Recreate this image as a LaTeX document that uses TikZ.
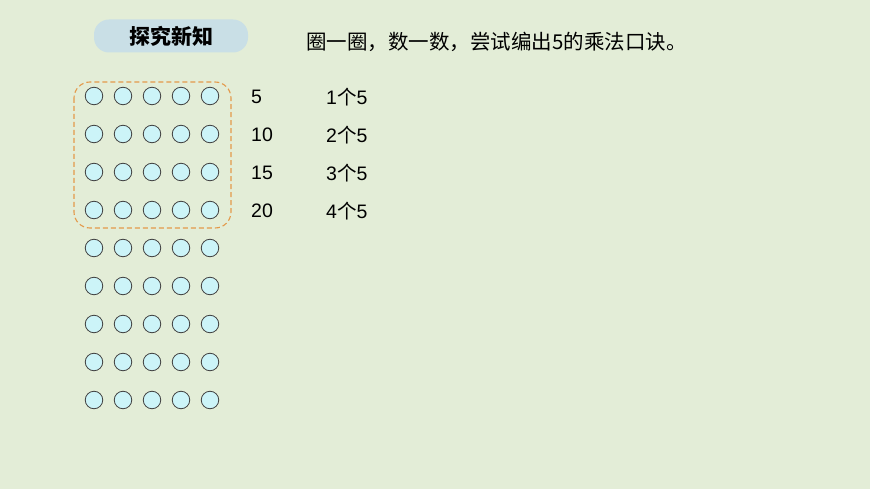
\documentclass[tikz,border=0pt]{standalone}
\usepackage{fontspec}
\setmainfont{Liberation Sans}
\newfontfamily\cjk{Noto Sans CJK SC}
\definecolor{bgc}{HTML}{E3EDD7}
\definecolor{pillc}{HTML}{C9DFE6}
\definecolor{dotc}{HTML}{CCF4F8}
\definecolor{dashc}{HTML}{E3994A}
\begin{document}
\begin{tikzpicture}[x=1pt,y=-1pt,
  dot/.style={circle,draw=black!75,fill=dotc,line width=0.8pt,minimum size=17.5pt,inner sep=0pt},
  numlbl/.style={anchor=west,font=\fontsize{19.5}{19.5}\selectfont,inner sep=0pt},
  cntlbl/.style={anchor=west,font=\fontsize{19.5}{19.5}\selectfont,inner sep=0pt}]
\fill[bgc] (0,0) rectangle (870,489);
\useasboundingbox (0,0) rectangle (870,489);
\node[fill=pillc,rounded corners=15pt,minimum width=154pt,minimum height=33pt,inner sep=0pt,font=\cjk\bfseries\fontsize{21}{21}\selectfont] (head) at (171,36) {探究新知};
\node[anchor=west,inner sep=0pt,font=\cjk\fontsize{20.5}{20.5}\selectfont] (title) at (306,42) {圈一圈，数一数，尝试编出5的乘法口诀。};
\foreach \r in {1,...,9}{
  \foreach \c in {1,...,5}{
    \node[dot] (d\r\c) at ({94+29*(\c-1)},{96+38*(\r-1)}) {};
  }
}
\draw[dashc,dash pattern=on 5pt off 3pt,line width=1.1pt,rounded corners=16pt] (74,82) rectangle (231,228);
\foreach \r/\n in {1/5,2/10,3/15,4/20}{
  \node[numlbl] (n\r) at (251,{97+38*(\r-1)}) {\n};
  \node[cntlbl] (k\r) at (326,{97+38*(\r-1)}) {\r{\cjk 个}5};
}
\end{tikzpicture}
\end{document}
